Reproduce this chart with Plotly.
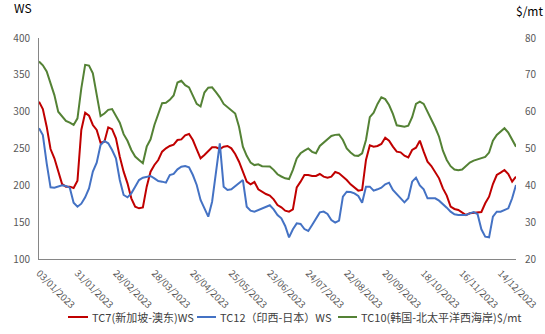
import pandas as pd
import plotly.graph_objects as go

# ---- categories: trading days (every second day sampled) ----
HOLIDAYS = ["2023-04-07", "2023-05-01", "2023-06-02", "2023-06-29",
            "2023-08-09", "2023-09-01", "2023-11-13", "2023-12-25"]
all_days = pd.bdate_range("2023-01-03", "2023-12-27", freq="C", holidays=HOLIDAYS)
DATES = [d.strftime("%d/%m/%Y") for d in all_days][::2]

TICK_LABELS = ["03/01/2023", "31/01/2023", "28/02/2023", "28/03/2023", "26/04/2023",
               "25/05/2023", "23/06/2023", "24/07/2023", "22/08/2023", "20/09/2023",
               "18/10/2023", "16/11/2023", "14/12/2023"]

# ---- series values ----
TC7_WS = [313.6, 303.6, 279.6, 249.3, 236.7, 220.8, 201.8, 198.2, 198.2, 196.4,
          206.3, 275.1, 298.6, 294.6, 281.9, 275.1, 257.9, 259.3, 278.7, 276.2,
          263.8, 238.9, 218.6, 202.7, 182.4, 171.0, 168.8, 170.1, 198.2, 218.6,
          227.6, 234.4, 245.7, 250.2, 253.4, 255.2, 261.5, 262.4, 267.9, 269.7,
          261.5, 248.9, 236.7, 241.2, 247.1, 251.6, 251.6, 249.3, 252.5, 253.4,
          250.2, 242.5, 232.1, 218.6, 205.0, 201.4, 204.5, 194.6, 191.0, 188.2,
          186.0, 181.0, 173.3, 170.1, 165.6, 164.3, 167.4, 197.3, 205.0, 214.0,
          214.0, 212.7, 212.7, 215.4, 211.8, 210.4, 211.8, 218.1, 216.3, 211.8,
          207.2, 201.4, 197.3, 192.8, 193.7, 234.4, 254.3, 252.5, 253.4, 256.1,
          264.7, 260.6, 252.5, 245.7, 244.8, 240.3, 238.0, 248.0, 251.1, 260.6,
          245.7, 232.1, 226.2, 218.6, 209.5, 195.9, 186.0, 171.0, 167.9, 166.5,
          162.9, 159.7, 162.0, 162.9, 162.9, 163.8, 175.6, 184.6, 201.8, 214.0,
          217.2, 220.8, 215.4, 205.0, 211.8]

TC12_WS = [277.4, 268.3, 229.9, 197.3, 196.8, 198.2, 200.0, 199.1, 196.8, 176.5,
           171.0, 175.1, 183.7, 195.9, 218.6, 230.8, 254.8, 260.2, 257.0, 248.0,
           236.7, 207.2, 186.9, 183.7, 189.1, 198.2, 207.2, 210.4, 211.8, 212.7,
           209.5, 205.9, 205.0, 203.6, 214.0, 215.4, 221.7, 225.3, 226.2, 224.4,
           214.0, 200.5, 180.1, 168.8, 157.5, 177.8, 220.8, 257.0, 198.2, 193.7,
           194.6, 199.1, 202.7, 207.2, 171.0, 165.6, 164.3, 166.5, 168.3, 170.1,
           172.9, 167.4, 159.7, 155.2, 144.8, 129.4, 140.3, 148.4, 147.5, 140.7,
           138.0, 146.2, 155.2, 163.3, 164.3, 161.1, 152.9, 149.3, 152.0, 184.6,
           191.4, 191.0, 189.1, 185.5, 176.5, 198.2, 198.2, 192.8, 194.6, 196.8,
           201.4, 203.6, 193.7, 188.2, 183.7, 176.9, 182.4, 205.0, 210.4, 200.0,
           194.6, 182.4, 182.4, 182.4, 179.2, 174.7, 169.7, 164.3, 160.6, 159.7,
           159.3, 159.7, 162.0, 163.8, 161.1, 140.3, 130.3, 129.4, 157.5, 164.3,
           164.3, 166.5, 168.8, 182.4, 200.5]

TC10_USD = [73.6, 72.6, 70.9, 67.7, 64.5, 60.0, 58.6, 57.5, 57.0, 56.4,
            58.2, 66.3, 72.7, 72.5, 70.4, 64.1, 58.8, 59.5, 60.5, 60.7,
            58.8, 57.0, 53.9, 52.1, 49.6, 47.8, 46.9, 46.0, 50.5, 52.5,
            56.4, 59.5, 62.3, 62.4, 63.2, 64.4, 67.9, 68.4, 67.2, 66.6,
            64.1, 62.1, 61.4, 65.2, 66.5, 66.6, 65.3, 63.9, 62.1, 61.2,
            60.5, 59.5, 55.9, 50.5, 48.0, 46.2, 45.5, 45.7, 45.2, 45.1,
            45.1, 44.2, 43.0, 42.4, 41.9, 41.7, 44.2, 47.3, 48.7, 49.4,
            50.0, 49.1, 48.7, 50.7, 51.6, 52.3, 53.4, 53.7, 53.8, 52.3,
            50.0, 48.9, 48.1, 48.0, 48.7, 52.3, 58.5, 59.7, 62.1, 63.9,
            63.4, 61.8, 59.4, 56.3, 56.1, 55.9, 56.2, 58.5, 62.1, 62.7,
            62.1, 60.0, 58.2, 55.7, 53.2, 49.4, 46.9, 45.2, 44.3, 44.1,
            44.3, 45.3, 46.2, 46.7, 47.1, 47.3, 47.7, 48.9, 52.1, 53.7,
            54.7, 55.5, 54.3, 52.3, 50.5]

NAMES = ["TC7(新加坡-澳东)WS", "TC12（印西-日本）WS", "TC10(韩国-北太平洋西海岸)$/mt"]
COLORS = ["#C00000", "#4472C4", "#548235"]

n = min(len(DATES), len(TC7_WS), len(TC12_WS), len(TC10_USD))
x = DATES[:n]

FONT = "Noto Sans CJK SC, Liberation Sans, sans-serif"
W, H = 545, 334
L, R, T, B = 39, 29, 38, 75
PW, PH = W - L - R, H - T - B


def px(xp):
    return (xp - L) / PW


def py(yp):
    return (H - B - yp) / PH


fig = go.Figure()
fig.add_trace(go.Scatter(x=x, y=TC7_WS[:n], name=NAMES[0], mode="lines",
                         line=dict(color=COLORS[0], width=2)))
fig.add_trace(go.Scatter(x=x, y=TC12_WS[:n], name=NAMES[1], mode="lines",
                         line=dict(color=COLORS[1], width=2)))
fig.add_trace(go.Scatter(x=x, y=TC10_USD[:n], name=NAMES[2], mode="lines",
                         line=dict(color=COLORS[2], width=2), yaxis="y2"))

fig.update_layout(
    width=W, height=H,
    margin=dict(l=L, r=R, t=T, b=B, autoexpand=False),
    paper_bgcolor="white", plot_bgcolor="white",
    font=dict(family=FONT, size=10, color="#595959"),
    showlegend=False,
    xaxis=dict(type="category", categoryorder="array", categoryarray=x,
               range=[0, n - 1], tickvals=TICK_LABELS, ticktext=TICK_LABELS,
               tickangle=45, showgrid=False, showline=True, linecolor="#868686",
               linewidth=1, ticks="", ticklabelstandoff=4,
               tickfont=dict(size=9.5, color="#595959"), zeroline=False),
    yaxis=dict(range=[100, 400], dtick=50, showgrid=False, showline=True,
               linecolor="#868686", linewidth=1, ticks="", zeroline=False,
               ticklabelstandoff=6, tickfont=dict(size=10, color="#595959")),
    yaxis2=dict(range=[20, 80], dtick=10, overlaying="y", side="right",
                showgrid=False, showline=False, ticks="", zeroline=False,
                ticklabelstandoff=8, tickfont=dict(size=10, color="#595959")),
)

# manual legend (one row, like the original)
LEG_Y = 317
leg_items = [(68, 88, 90), (197, 216, 218), (338, 357, 359)]
for (x0, x1, xt), name, col in zip(leg_items, NAMES, COLORS):
    fig.add_shape(type="line", xref="paper", yref="paper",
                  x0=px(x0), x1=px(x1), y0=py(LEG_Y), y1=py(LEG_Y),
                  line=dict(color=col, width=2))
    fig.add_annotation(text=name, xref="paper", yref="paper", x=px(xt), y=py(LEG_Y),
                       xanchor="left", yanchor="middle", showarrow=False,
                       font=dict(family=FONT, size=11, color="#404040"))

fig.add_annotation(text="WS", xref="paper", yref="paper", x=px(12), y=py(7),
                   xanchor="left", yanchor="middle", showarrow=False,
                   font=dict(family=FONT, size=12, color="#000000"))
fig.add_annotation(text="$/mt", xref="paper", yref="paper", x=px(545), y=py(11),
                   xanchor="right", yanchor="middle", showarrow=False,
                   font=dict(family=FONT, size=12, color="#000000"))

fig.write_html("out.html")
